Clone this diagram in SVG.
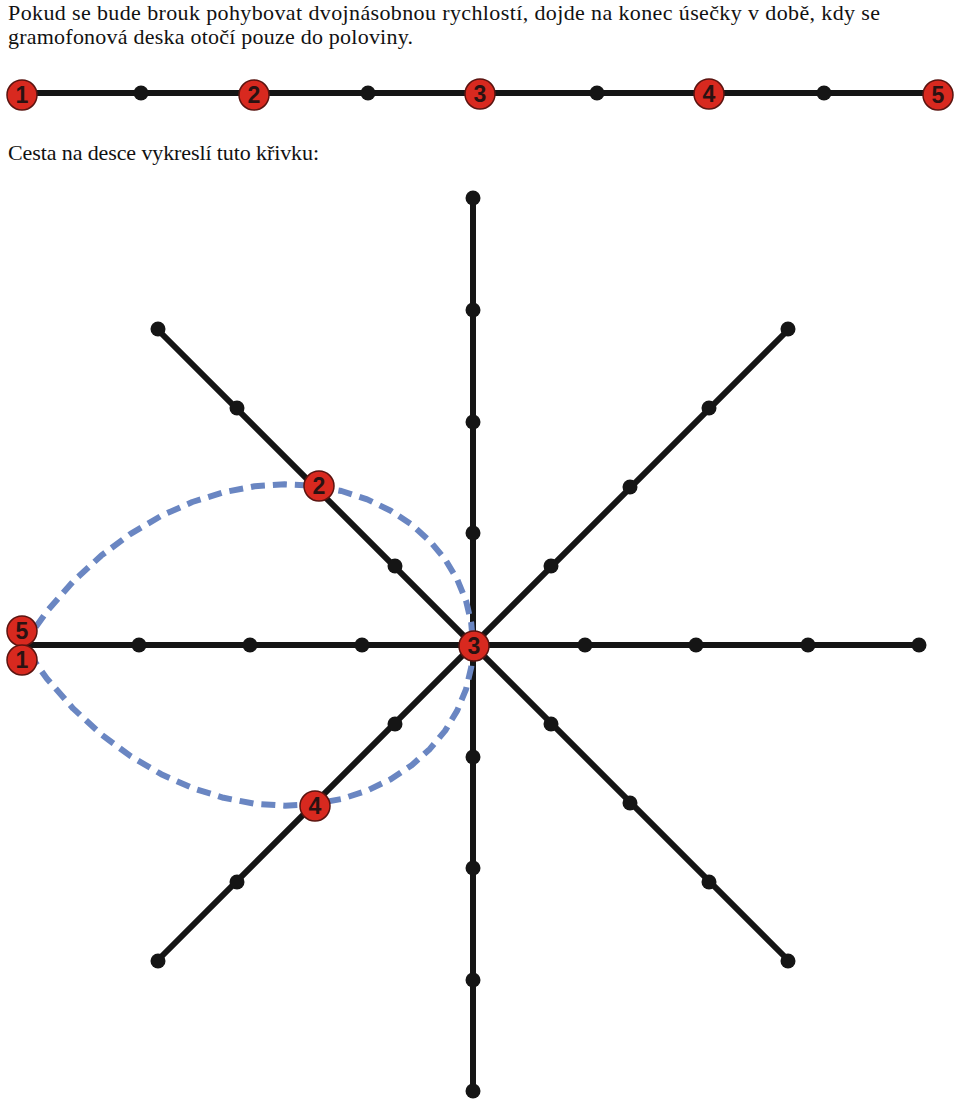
<svg xmlns="http://www.w3.org/2000/svg" width="960" height="1103" viewBox="0 0 960 1103">
<style>
.t{font-family:"Liberation Serif","Times New Roman",serif;font-size:22px;fill:#111}
.ln{stroke:#151515;stroke-width:6;fill:none;stroke-linecap:round}
.dot{fill:#151515}
.red{fill:#d8291f;stroke:#5a1410;stroke-width:1.5}
.num{font-family:"Liberation Sans",Arial,sans-serif;font-weight:bold;font-size:23px;fill:#2a1212;text-anchor:middle}
.curve{fill:none;stroke:#6a86c2;stroke-width:6;stroke-dasharray:14 8;stroke-linejoin:round}
</style>
<defs>
<circle id="d" r="7.5" class="dot"/>
</defs>
<rect width="960" height="1103" fill="#fff"/>
<g id="texts">
<text class="t" x="8" y="20" textLength="872" lengthAdjust="spacing">Pokud se bude brouk pohybovat dvojnásobnou rychlostí, dojde na konec úsečky v době, kdy se</text>
<text class="t" x="8" y="44" textLength="405" lengthAdjust="spacing">gramofonová deska otočí pouze do poloviny.</text>
<text class="t" x="8" y="160" textLength="311" lengthAdjust="spacing">Cesta na desce vykreslí tuto křivku:</text>
</g>
<g id="connectors">
<line class="ln" x1="22" y1="93" x2="938" y2="93"/>
<line class="ln" x1="473" y1="198" x2="473" y2="1091"/>
<line class="ln" x1="22" y1="645" x2="919" y2="645"/>
<line class="ln" x1="157" y1="329" x2="789" y2="961"/>
<line class="ln" x1="157" y1="961" x2="789" y2="329"/>
</g>
<g id="dots">
<use href="#d" x="141" y="93"/><use href="#d" x="368" y="93"/><use href="#d" x="597" y="93"/><use href="#d" x="824" y="93"/>
<use href="#d" x="473" y="198"/><use href="#d" x="473" y="310"/><use href="#d" x="473" y="422"/><use href="#d" x="473" y="533"/>
<use href="#d" x="473" y="757"/><use href="#d" x="473" y="868"/><use href="#d" x="473" y="980"/><use href="#d" x="473" y="1091"/>
<use href="#d" x="139" y="645"/><use href="#d" x="250" y="645"/><use href="#d" x="362" y="645"/>
<use href="#d" x="585" y="645"/><use href="#d" x="696" y="645"/><use href="#d" x="808" y="645"/><use href="#d" x="919" y="645"/>
<use href="#d" x="158" y="329"/><use href="#d" x="237" y="408"/><use href="#d" x="395" y="566"/>
<use href="#d" x="788" y="329"/><use href="#d" x="709" y="408"/><use href="#d" x="630" y="487"/><use href="#d" x="551" y="566"/>
<use href="#d" x="158" y="961"/><use href="#d" x="237" y="882"/><use href="#d" x="395" y="724"/>
<use href="#d" x="788" y="961"/><use href="#d" x="709" y="882"/><use href="#d" x="630" y="803"/><use href="#d" x="551" y="724"/>
</g>
<g id="path-curve">
<polyline class="curve" points="23,645 46.8,611.5 73,581.6 101.1,555.7 130.6,533.8 161.2,515.8 192.3,502 223.6,492.2 254.6,486.3 284.8,484.3 313.9,485.9 341.5,491 367.2,499.4 390.7,510.7 411.7,524.7 429.9,541.1 445.2,559.4 457.2,579.4 466,600.6 471.2,622.6 473,645 471.2,667.4 466,689.4 457.2,710.6 445.2,730.6 429.9,748.9 411.7,765.3 390.7,779.3 367.2,790.6 341.5,799 313.9,804.1 284.8,805.7 254.6,803.7 223.6,797.8 192.3,788 161.2,774.2 130.6,756.2 101.1,734.3 73,708.4 46.8,678.5 23,645"/>
</g>
<g id="n1"><circle class="red" cx="22" cy="95" r="15"/><text class="num" x="22" y="103">1</text></g>
<g id="n2"><circle class="red" cx="254" cy="95" r="15"/><text class="num" x="254" y="103">2</text></g>
<g id="n3"><circle class="red" cx="480" cy="94" r="15"/><text class="num" x="480" y="102">3</text></g>
<g id="n4"><circle class="red" cx="709" cy="94" r="15"/><text class="num" x="709" y="102">4</text></g>
<g id="n5"><circle class="red" cx="938" cy="95" r="15"/><text class="num" x="938" y="103">5</text></g>
<g id="m5"><circle class="red" cx="22" cy="631" r="15"/><text class="num" x="22" y="639">5</text></g>
<g id="m1"><circle class="red" cx="22" cy="660" r="15"/><text class="num" x="22" y="668">1</text></g>
<g id="m2"><circle class="red" cx="319" cy="486" r="15"/><text class="num" x="319" y="494">2</text></g>
<g id="m3"><circle class="red" cx="474" cy="646" r="15"/><text class="num" x="474" y="654">3</text></g>
<g id="m4"><circle class="red" cx="315" cy="806" r="15"/><text class="num" x="315" y="814">4</text></g>
</svg>
